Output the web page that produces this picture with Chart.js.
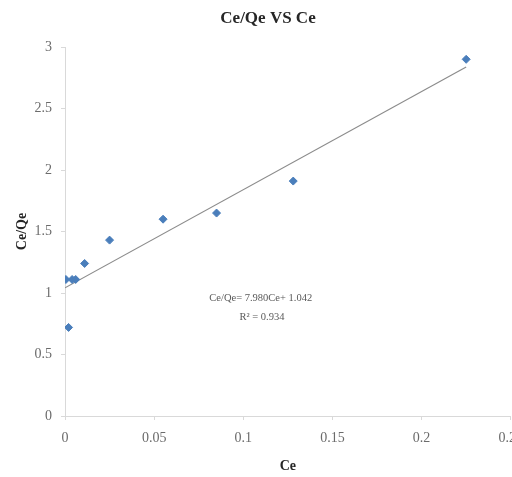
<!DOCTYPE html>
<html>
<head>
<meta charset="utf-8">
<script src="https://cdn.jsdelivr.net/npm/chart.js@4"></script>
<style>
  html, body { margin: 0; padding: 0; overflow: hidden; background: #fff; }
  #wrap { width: 533px; height: 477px; }
</style>
</head>
<body>
<div id="wrap"><canvas id="isoChart"></canvas></div>
<script>
// values
const ceValues = [0.0005, 0.002, 0.004, 0.006, 0.011, 0.025, 0.055, 0.085, 0.128, 0.225];
const ceQeValues = [1.11, 0.72, 1.11, 1.11, 1.24, 1.43, 1.60, 1.65, 1.91, 2.90];
const slope = 7.980;
const intercept = 1.042;
const fitRange = [0, 0.225];
const xTicks = [0, 0.05, 0.1, 0.15, 0.2, 0.25];
const yTicks = [0, 0.5, 1, 1.5, 2, 2.5, 3];
const chartTitle = 'Ce/Qe VS Ce';
const equationLines = ['Ce/Qe= 7.980Ce+ 1.042', 'R² = 0.934'];

document.addEventListener('DOMContentLoaded', () => {
  const ctx = document.getElementById('isoChart').getContext('2d');
  const serif = '"Liberation Serif", "DejaVu Serif", serif';

  const points = ceValues.map((x, i) => ({ x: x, y: ceQeValues[i] }));
  const fitLine = fitRange.map(x => ({ x: x, y: slope * x + intercept }));

  // title + regression text, drawn on top of the chart
  const labels = {
    id: 'labels',
    afterDatasetsDraw(chart) {
      const c = chart.ctx;
      const xs = chart.scales.x;
      const ys = chart.scales.y;
      c.save();
      c.textAlign = 'center';
      c.textBaseline = 'middle';
      c.font = 'bold 17px ' + serif;
      c.fillStyle = '#262626';
      c.fillText(chartTitle, 268, 19);
      c.font = '10.5px ' + serif;
      c.fillStyle = '#595959';
      c.fillText(equationLines[0], xs.getPixelForValue(0.1098), ys.getPixelForValue(0.955));
      c.fillText(equationLines[1], xs.getPixelForValue(0.1105), ys.getPixelForValue(0.80));
      c.restore();
    },
  };

  new Chart(ctx, {
    type: 'scatter',
    data: {
      datasets: [{
        label: 'Ce/Qe',
        data: points,
        pointStyle: 'rectRot',
        pointRadius: 4,
        backgroundColor: '#4a7ebb',
        borderColor: '#4a7ebb',
        borderWidth: 1,
        order: 1,
      }, {
        label: 'Linear',
        type: 'line',
        data: fitLine,
        borderColor: '#8c8c8c',
        borderWidth: 1.2,
        pointRadius: 0,
        fill: false,
        order: 2,
      }],
    },
    options: {
      responsive: true,
      maintainAspectRatio: false,
      animation: false,
      layout: { padding: { left: 0, right: 20, top: 47, bottom: 0 } },
      plugins: {
        legend: { display: false },
        tooltip: { enabled: false },
      },
      scales: {
        x: {
          type: 'linear',
          min: 0,
          max: 0.25,
          afterBuildTicks: (s) => { s.ticks = xTicks.map(v => ({ value: v })); },
          afterFit: (s) => { s.height = 61; },
          grid: { drawOnChartArea: false, drawTicks: true, tickLength: 4, color: '#d9d9d9' },
          border: { color: '#d9d9d9' },
          ticks: {
            color: '#6b6b6b',
            font: { family: serif, size: 14 },
            padding: 10,
            maxRotation: 0,
            callback: (v) => String(v),
          },
          title: {
            display: true,
            text: 'Ce',
            color: '#262626',
            font: { family: serif, size: 14, weight: 'bold' },
            padding: { top: 0, bottom: 2 },
          },
        },
        y: {
          type: 'linear',
          min: 0,
          max: 3,
          afterBuildTicks: (s) => { s.ticks = yTicks.map(v => ({ value: v })); },
          afterFit: (s) => { s.width = 65; },
          grid: { drawOnChartArea: false, drawTicks: true, tickLength: 4, color: '#d9d9d9' },
          border: { color: '#d9d9d9' },
          ticks: {
            color: '#6b6b6b',
            font: { family: serif, size: 14 },
            padding: 9,
            callback: (v) => String(v),
          },
          title: {
            display: true,
            text: 'Ce/Qe',
            color: '#262626',
            font: { family: serif, size: 14, weight: 'bold' },
            padding: { top: 14, bottom: 0 },
          },
        },
      },
    },
    plugins: [labels],
  });
});
</script>
</body>
</html>
